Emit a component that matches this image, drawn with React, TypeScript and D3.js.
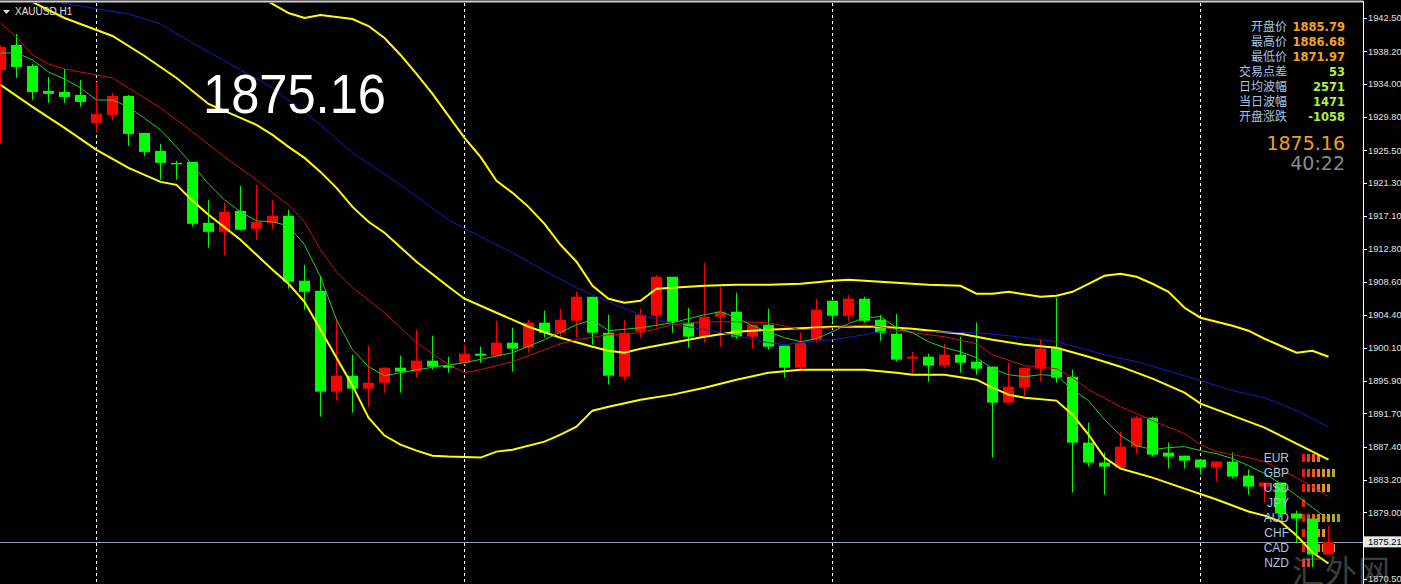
import React from 'react';
import * as d3 from 'd3';

// ---------- data ----------
const symbol = 'XAUUSD,H1';
const opens = [1935.83,1939.03,1936.34,1933.13,1933.00,1932.62,1929.02,1930.05,1932.49,1927.74,1925.43,1923.89,1924.02,1916.19,1915.03,1917.73,1915.42,1916.19,1917.09,1908.75,1907.46,1894.50,1896.55,1894.88,1895.65,1897.58,1897.07,1898.48,1897.84,1898.22,1899.38,1899.12,1900.79,1900.15,1903.36,1902.07,1903.61,1906.69,1902.07,1896.42,1902.20,1904.25,1909.26,1903.36,1901.56,1904.13,1904.77,1901.56,1903.10,1900.40,1897.58,1901.17,1906.18,1904.25,1906.44,1903.74,1901.94,1898.74,1898.99,1897.84,1899.25,1898.35,1897.71,1893.09,1895.01,1897.45,1900.15,1896.42,1887.95,1885.39,1884.74,1887.44,1891.16,1886.67,1886.28,1885.79,1884.74,1885.52,1883.72,1882.31,1882.82,1878.85,1878.20,1873.58];
const highs = [1939.03,1940.45,1936.60,1934.93,1935.95,1934.54,1934.29,1932.87,1932.62,1927.74,1926.33,1924.15,1924.02,1919.14,1918.76,1920.94,1921.07,1919.14,1917.86,1910.80,1909.39,1904.00,1899.25,1900.40,1897.58,1899.12,1902.46,1901.69,1898.99,1900.53,1900.28,1903.61,1902.71,1903.74,1904.90,1905.15,1907.33,1906.69,1904.38,1903.74,1905.15,1909.52,1909.26,1905.28,1911.06,1907.98,1907.20,1903.10,1905.15,1900.40,1902.07,1906.44,1906.18,1906.95,1906.69,1904.38,1904.51,1899.63,1899.38,1900.66,1901.56,1903.36,1897.71,1898.22,1897.58,1901.17,1906.56,1897.32,1890.52,1886.67,1889.37,1891.42,1891.29,1887.95,1886.28,1885.79,1885.52,1886.68,1884.49,1882.82,1882.82,1879.23,1878.20,1877.30];
const lows = [1926.46,1934.80,1931.97,1931.59,1931.59,1931.08,1927.87,1929.41,1926.07,1924.79,1921.71,1921.71,1915.68,1912.98,1912.08,1915.16,1914.01,1915.42,1907.72,1905.02,1891.29,1893.35,1891.80,1892.57,1894.37,1894.37,1896.30,1897.32,1896.94,1897.97,1898.22,1899.12,1897.07,1899.50,1901.43,1901.56,1901.43,1900.53,1895.40,1895.91,1901.43,1902.84,1902.07,1900.15,1900.79,1900.28,1901.30,1900.02,1899.89,1896.30,1897.20,1900.79,1903.36,1903.48,1903.36,1901.04,1898.35,1896.68,1895.78,1897.58,1896.94,1896.68,1886.03,1893.09,1893.86,1895.78,1895.65,1881.54,1884.87,1881.28,1884.74,1886.54,1886.16,1884.62,1884.62,1883.85,1882.95,1883.33,1881.28,1880.26,1878.33,1875.12,1871.97,1873.58];
const closes = [1938.78,1936.21,1933.00,1932.75,1932.36,1931.72,1930.18,1932.49,1927.61,1925.30,1923.89,1923.76,1916.06,1915.03,1917.60,1915.29,1916.32,1917.09,1908.62,1907.33,1894.50,1896.55,1894.88,1895.65,1897.58,1897.07,1898.48,1897.71,1897.58,1899.38,1899.12,1900.79,1900.02,1903.36,1902.07,1903.74,1906.69,1902.07,1896.55,1902.07,1904.38,1909.26,1903.48,1901.56,1904.13,1904.77,1901.56,1903.10,1900.28,1897.58,1900.79,1905.02,1904.25,1906.44,1903.61,1902.07,1898.61,1898.99,1897.84,1899.25,1898.22,1897.45,1893.09,1895.14,1897.58,1900.02,1896.30,1887.95,1885.39,1884.87,1887.44,1891.16,1886.41,1886.16,1885.64,1884.74,1885.52,1883.59,1882.31,1882.82,1878.85,1878.20,1873.58,1875.21];

// moving averages [candle index, price]
const maFast: [number, number][] = [[0,1938.01],[1,1938.01],[2,1937.11],[3,1935.57],[4,1934.67],[5,1933.52],[6,1931.97],[7,1931.97],[8,1931.08],[10,1928.12],[11,1925.94],[12,1923.63],[13,1921.19],[14,1919.14],[15,1917.60],[16,1916.45],[17,1916.32],[18,1915.80],[19,1913.37],[20,1909.26],[21,1903.74],[22,1899.89],[23,1897.71],[24,1896.55],[26,1897.32],[29,1898.22],[32,1899.50],[34,1901.17],[36,1903.10],[37,1903.74],[38,1902.33],[40,1902.71],[42,1903.36],[44,1904.38],[45,1904.77],[46,1904.00],[47,1902.97],[48,1902.20],[49,1901.43],[50,1900.92],[51,1901.30],[52,1902.20],[53,1903.23],[54,1904.00],[55,1904.13],[56,1902.71],[57,1902.07],[58,1900.92],[59,1900.15],[60,1899.63],[61,1898.86],[62,1897.45],[63,1896.68],[64,1896.42],[65,1896.68],[66,1896.55],[67,1894.76],[68,1893.35],[69,1890.91],[70,1888.86],[71,1887.57],[72,1887.05],[73,1887.31],[74,1887.44],[75,1886.93],[76,1886.54],[77,1885.90],[78,1885.00],[79,1883.98],[80,1882.69],[81,1881.15],[82,1879.61],[83,1878.07]];
const maMid: [number, number][] = [[0,1941.86],[1,1940.06],[2,1937.75],[3,1936.60],[4,1935.95],[6,1935.18],[7,1934.80],[8,1933.52],[9,1932.23],[10,1930.95],[11,1929.41],[12,1927.87],[14,1924.66],[16,1921.71],[17,1920.04],[18,1918.50],[19,1916.32],[20,1912.72],[21,1909.90],[22,1907.85],[24,1904.64],[26,1900.79],[28,1897.97],[29,1896.94],[30,1897.32],[32,1898.35],[34,1899.89],[35,1900.66],[36,1901.17],[38,1901.81],[40,1902.07],[42,1903.10],[44,1903.48],[46,1903.48],[48,1903.36],[50,1902.46],[52,1902.71],[54,1903.10],[55,1902.84],[57,1902.07],[59,1901.56],[61,1900.66],[62,1899.25],[64,1897.84],[66,1897.45],[67,1896.30],[68,1894.76],[70,1892.57],[72,1890.78],[74,1889.11],[75,1887.70],[76,1886.80],[78,1886.03],[79,1885.52],[80,1884.49],[81,1883.46],[82,1882.31],[83,1881.03]];
const maSlow: [number, number][] = [[3,1944.68],[5,1944.04],[8,1943.01],[10,1941.73],[12,1939.29],[15,1935.82],[17,1933.52],[20,1928.77],[22,1925.17],[25,1921.07],[28,1916.58],[30,1914.39],[32,1912.34],[34,1910.03],[36,1907.85],[38,1906.05],[40,1904.38],[42,1903.23],[44,1902.46],[46,1901.69],[48,1900.79],[49,1900.53],[50,1900.79],[52,1901.17],[54,1901.81],[55,1902.20],[58,1902.20],[61,1902.07],[63,1901.69],[66,1900.92],[69,1899.25],[71,1898.35],[74,1896.55],[75,1895.91],[77,1894.63],[79,1893.73],[81,1892.06],[83,1890.01]];

// Bollinger bands [candle index, price]
const bandUpper: [number, number][] = [[16,1945.45],[17,1944.30],[18,1943.14],[19,1942.50],[20,1942.88],[21,1942.63],[22,1942.37],[23,1941.47],[24,1939.93],[25,1937.75],[26,1935.31],[27,1932.75],[28,1929.92],[29,1927.10],[30,1924.66],[31,1921.58],[32,1920.04],[33,1918.24],[34,1916.06],[35,1913.37],[36,1911.19],[37,1908.10],[38,1906.44],[39,1905.92],[40,1906.18],[41,1907.72],[42,1907.85],[44,1908.10],[46,1908.23],[48,1908.23],[50,1908.36],[52,1908.75],[53,1908.87],[55,1908.62],[58,1908.23],[60,1908.10],[61,1907.08],[62,1907.08],[63,1907.33],[65,1906.69],[66,1906.82],[67,1907.33],[68,1908.36],[69,1909.39],[70,1909.65],[71,1909.26],[72,1908.36],[73,1907.33],[74,1905.28],[75,1904.00],[77,1902.97],[78,1902.33],[79,1901.30],[80,1900.40],[81,1899.50],[82,1899.76],[83,1898.99]];
const bandMiddle: [number, number][] = [[2,1944.55],[4,1942.50],[6,1940.96],[7,1940.19],[9,1937.62],[11,1934.80],[13,1931.46],[15,1929.66],[16,1928.77],[17,1927.48],[18,1925.94],[19,1924.53],[20,1922.73],[21,1920.68],[22,1918.24],[23,1916.32],[24,1914.91],[26,1911.19],[28,1907.98],[29,1906.44],[31,1904.64],[33,1902.84],[35,1901.43],[37,1900.28],[38,1899.76],[39,1899.50],[40,1900.02],[42,1900.79],[44,1901.56],[46,1902.20],[48,1902.46],[52,1902.84],[55,1902.84],[57,1902.58],[60,1901.94],[62,1901.17],[64,1900.53],[66,1900.15],[68,1898.99],[70,1897.71],[72,1896.17],[74,1894.37],[75,1892.96],[77,1891.42],[79,1889.88],[80,1888.85],[82,1886.80],[83,1885.78]];
const bandLower: [number, number][] = [[0,1933.90],[2,1931.08],[4,1928.38],[6,1925.56],[8,1923.25],[10,1921.45],[11,1921.07],[12,1919.01],[13,1917.22],[15,1914.01],[17,1910.16],[18,1908.36],[19,1906.05],[20,1902.46],[21,1898.86],[22,1895.27],[23,1891.16],[24,1888.86],[25,1887.70],[26,1886.93],[27,1886.28],[28,1886.16],[30,1886.03],[31,1886.80],[32,1887.05],[34,1888.08],[35,1888.98],[36,1890.01],[37,1892.06],[38,1892.57],[40,1893.47],[42,1894.12],[44,1895.01],[46,1896.04],[48,1896.94],[50,1897.32],[52,1897.32],[54,1897.32],[56,1896.94],[57,1896.68],[59,1896.68],[61,1896.04],[62,1895.01],[63,1894.12],[64,1893.73],[66,1893.35],[67,1891.55],[68,1888.98],[69,1886.03],[70,1884.62],[72,1883.46],[74,1882.05],[76,1880.64],[78,1879.10],[79,1878.58],[80,1877.82],[81,1876.02],[82,1873.84],[83,1872.43]];

const separators = [6, 29, 52, 75];
const priceTicks = [1942.5,1938.2,1934.0,1929.8,1925.5,1921.3,1917.1,1912.8,1908.6,1904.4,1900.1,1895.9,1891.7,1887.4,1883.2,1879.0,1870.5];
const currentBid = 1875.21;
const bigPrice = '1875.16';

const infoLabels = ['开盘价','最高价','最低价','交易点差','日均波幅','当日波幅','开盘涨跌'];
const infoValues = ['1885.79','1886.68','1871.97','53','2571','1471','-1058'];
const timer = '40:22';

const currencies = ['EUR','GBP','USD','JPY','AUD','CHF','CAD','NZD'];
const strength = [4,7,6,1,8,5,7,2];
const barColors = ['#e8200c','#f03c10','#f05a14','#f07818','#e89420','#d0a020','#b0a824','#90a828'];

// ---------- component ----------
export default function App() {
  const W = 1401, H = 584, PR = 1363;
  const x = d3.scaleLinear().domain([0, 83]).range([0.5, 1328.5]);
  const y = d3.scaleLinear().domain([1870.5, 1942.5]).range([578.5, 18]);
  const line = d3.line<[number, number]>().x(d => x(d[0])).y(d => y(d[1]));
  const candles = d3.range(opens.length);

  return (
    <svg width={W} height={H} style={{ position: 'absolute', left: 0, top: 0, background: '#000' }}
      fontFamily="'Liberation Sans', Arial, sans-serif">
      <defs>
        <clipPath id="plot"><rect x={0} y={3} width={PR} height={H - 3} /></clipPath>
      </defs>
      <rect x={0} y={0} width={W} height={H} fill="#000" />

      <g clipPath="url(#plot)">
        {separators.map(i => (
          <line key={i} x1={x(i)} x2={x(i)} y1={3} y2={H} stroke="#ffffff" strokeDasharray="3,3" />
        ))}
        <line x1={0} x2={PR} y1={Math.round(y(currentBid)) + 0.5} y2={Math.round(y(currentBid)) + 0.5} stroke="#9aa2b0" />

        {/* currency strength bars */}
        {currencies.map((c, r) => (
          <g key={c}>
            {d3.range(strength[r]).map(k => (
              <rect key={k} x={1302 + k * 5} y={454 + r * 15} width={3} height={8} fill={barColors[k]} />
            ))}
          </g>
        ))}

        {/* candles */}
        {candles.map(i => {
          const up = closes[i] >= opens[i];
          const col = up ? '#ff0000' : '#00ff00';
          const cx = x(i);
          const top = y(Math.max(opens[i], closes[i]));
          const bot = y(Math.min(opens[i], closes[i]));
          return (
            <g key={i}>
              <line x1={cx} x2={cx} y1={y(highs[i])} y2={y(lows[i])} stroke={col} />
              <rect x={cx - 5.5} y={top} width={11} height={Math.max(1.5, bot - top)} fill={col} />
            </g>
          );
        })}

        {/* indicators */}
        <path d={line(bandUpper) || ''} fill="none" stroke="#ffff00" strokeWidth={2} />
        <path d={line(bandMiddle) || ''} fill="none" stroke="#ffff00" strokeWidth={2} />
        <path d={line(bandLower) || ''} fill="none" stroke="#ffff00" strokeWidth={2} />
        <path d={line(maSlow) || ''} fill="none" stroke="#1a1ac8" strokeWidth={1} />
        <path d={line(maMid) || ''} fill="none" stroke="#d01010" strokeWidth={1} />
        <path d={line(maFast) || ''} fill="none" stroke="#20d020" strokeWidth={1} />
      </g>

      {/* frame */}
      <line x1={0} x2={PR} y1={1.5} y2={1.5} stroke="#d0d0d0" strokeWidth={2} />
      <line x1={PR + 0.5} x2={PR + 0.5} y1={1} y2={H} stroke="#ffffff" />

      {/* price axis */}
      {priceTicks.map(t => (
        <g key={t}>
          <line x1={PR} x2={PR + 4} y1={Math.round(y(t)) + 0.5} y2={Math.round(y(t)) + 0.5} stroke="#ffffff" />
          <text x={PR + 5} y={y(t)} dy="0.35em" fontSize={9.3} fill="#e0e0e0">{t.toFixed(2)}</text>
        </g>
      ))}
      <rect x={PR + 1} y={y(currentBid) - 5.5} width={W - PR} height={11} fill="#e8e8e8" />
      <text x={PR + 5} y={y(currentBid)} dy="0.35em" fontSize={9.3} fill="#000">{currentBid.toFixed(2)}</text>

      {/* header */}
      <path d="M3,10 L10,10 L6.5,14 Z" fill="#e0e0e0" />
      <text x={15} y={15} fontSize={10} fill="#e0e0e0">{symbol}</text>

      {/* big price */}
      <text x={203} y={113} fontSize={55} fill="#ffffff" textLength={183} lengthAdjust="spacingAndGlyphs">{bigPrice}</text>

      {/* info panel */}
      {infoLabels.map((l, k) => (
        <g key={l}>
          <text x={1287} y={27 + k * 15} dy="0.35em" textAnchor="end" fontSize={12}
            fontFamily="'Noto Sans CJK SC', sans-serif" fill="#a9c4e4">{l}</text>
          <text x={1345} y={27 + k * 15} dy="0.35em" textAnchor="end" fontSize={11.5} fontWeight="bold"
            fontFamily="'DejaVu Sans', sans-serif" fill={k < 3 ? '#f5a31a' : '#b4f03c'}>{infoValues[k]}</text>
        </g>
      ))}
      <text x={1345} y={150} textAnchor="end" fontSize={19} fontFamily="'DejaVu Sans', sans-serif" fill="#f0a020">{bigPrice}</text>
      <text x={1345} y={170} textAnchor="end" fontSize={19} fontFamily="'DejaVu Sans', sans-serif" fill="#8a8a8a">{timer}</text>

      {/* currency labels */}
      {currencies.map((c, r) => (
        <text key={c} x={1289} y={458 + r * 15} dy="0.35em" textAnchor="end" fontSize={12} fill="#a9c4e4">{c}</text>
      ))}

      {/* watermark */}
      <text x={1292} y={583} fontSize={32} fill="#9a9a9a" opacity={0.4}
        fontFamily="'Noto Sans CJK SC', sans-serif" letterSpacing={1}>汇外网</text>
    </svg>
  );
}
